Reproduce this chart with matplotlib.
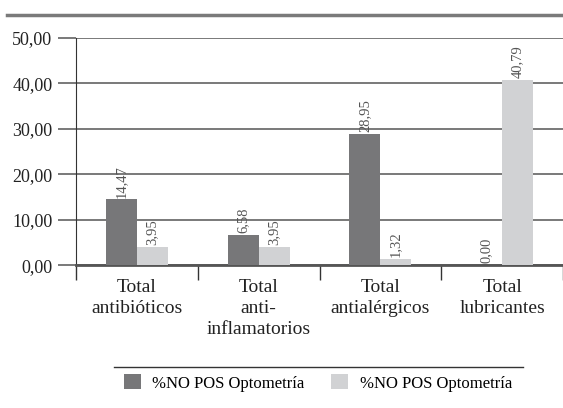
import matplotlib
matplotlib.use("Agg")
import matplotlib.pyplot as plt
from matplotlib.lines import Line2D
import numpy as np

# datos
categorias = ["Total\nantibióticos", "Total\nanti-\ninflamatorios", "Total\nantialérgicos", "Total\nlubricantes"]
serie1 = [14.47, 6.58, 28.95, 0.00]
serie2 = [3.95, 3.95, 1.32, 40.79]
nombre1 = "%NO POS Optometría"
nombre2 = "%NO POS Optometría"
yticks = [0, 10, 20, 30, 40, 50]

plt.rcParams['font.family'] = ['Liberation Serif', 'DejaVu Serif']

fig = plt.figure(figsize=(5.63, 4.08), dpi=100)
ax = fig.add_axes([0.135, 0.350, 0.865, 0.557])

x = np.arange(len(categorias))
w = 0.255
b1 = ax.bar(x - w / 2, serie1, w, color="#777779", label=nombre1, zorder=3)
b2 = ax.bar(x + w / 2, serie2, w, color="#d1d2d4", label=nombre2, zorder=3)

def etiq(v):
    return ("%.2f" % v).replace(".", ",")

for barras, vals in [(b1, serie1), (b2, serie2)]:
    for r, v in zip(barras, vals):
        ax.text(r.get_x() + r.get_width() / 2, v + 0.4, etiq(v), rotation=90,
                ha="center", va="bottom", fontsize=10.5, color="#555555", zorder=4)

ax.set_xlim(-0.5, 3.5)
ax.set_ylim(0, 50)
ax.set_yticks(yticks)
ax.set_yticklabels([etiq(v) for v in yticks], fontsize=13, color="#222222")
ax.yaxis.grid(True, color="#555555", linewidth=1.1, zorder=0)
ax.tick_params(axis="y", length=13, width=1.1, color="#555555", pad=4)

ax.set_xticks(x)
ax.set_xticklabels(categorias, fontsize=14, color="#222222", linespacing=1.32)
ax.tick_params(axis="x", which="major", length=0, pad=10)
ax.set_xticks(np.arange(-0.5, 4.0, 1.0), minor=True)
ax.tick_params(axis="x", which="minor", length=11, width=1.0, color="#333333")

for s in ["top", "right"]:
    ax.spines[s].set_visible(False)
ax.spines["left"].set_color("#333333")
ax.spines["bottom"].set_color("#555555")
ax.spines["bottom"].set_linewidth(2)

# linea superior y linea del legend
fig.add_artist(Line2D([7 / 563, 1.0], [1 - 15 / 408, 1 - 15 / 408], color="#7a7a7a", linewidth=2.5))
fig.add_artist(Line2D([114 / 563, 523 / 563], [1 - 367 / 408, 1 - 367 / 408], color="#333333", linewidth=1))

fig.legend(loc="center", bbox_to_anchor=(318 / 563, 1 - 383 / 408), ncol=2, frameon=False,
           fontsize=12, handlelength=1.0, handleheight=1.0, columnspacing=1.6, handletextpad=0.7)

fig.savefig("out.png", dpi=100)
